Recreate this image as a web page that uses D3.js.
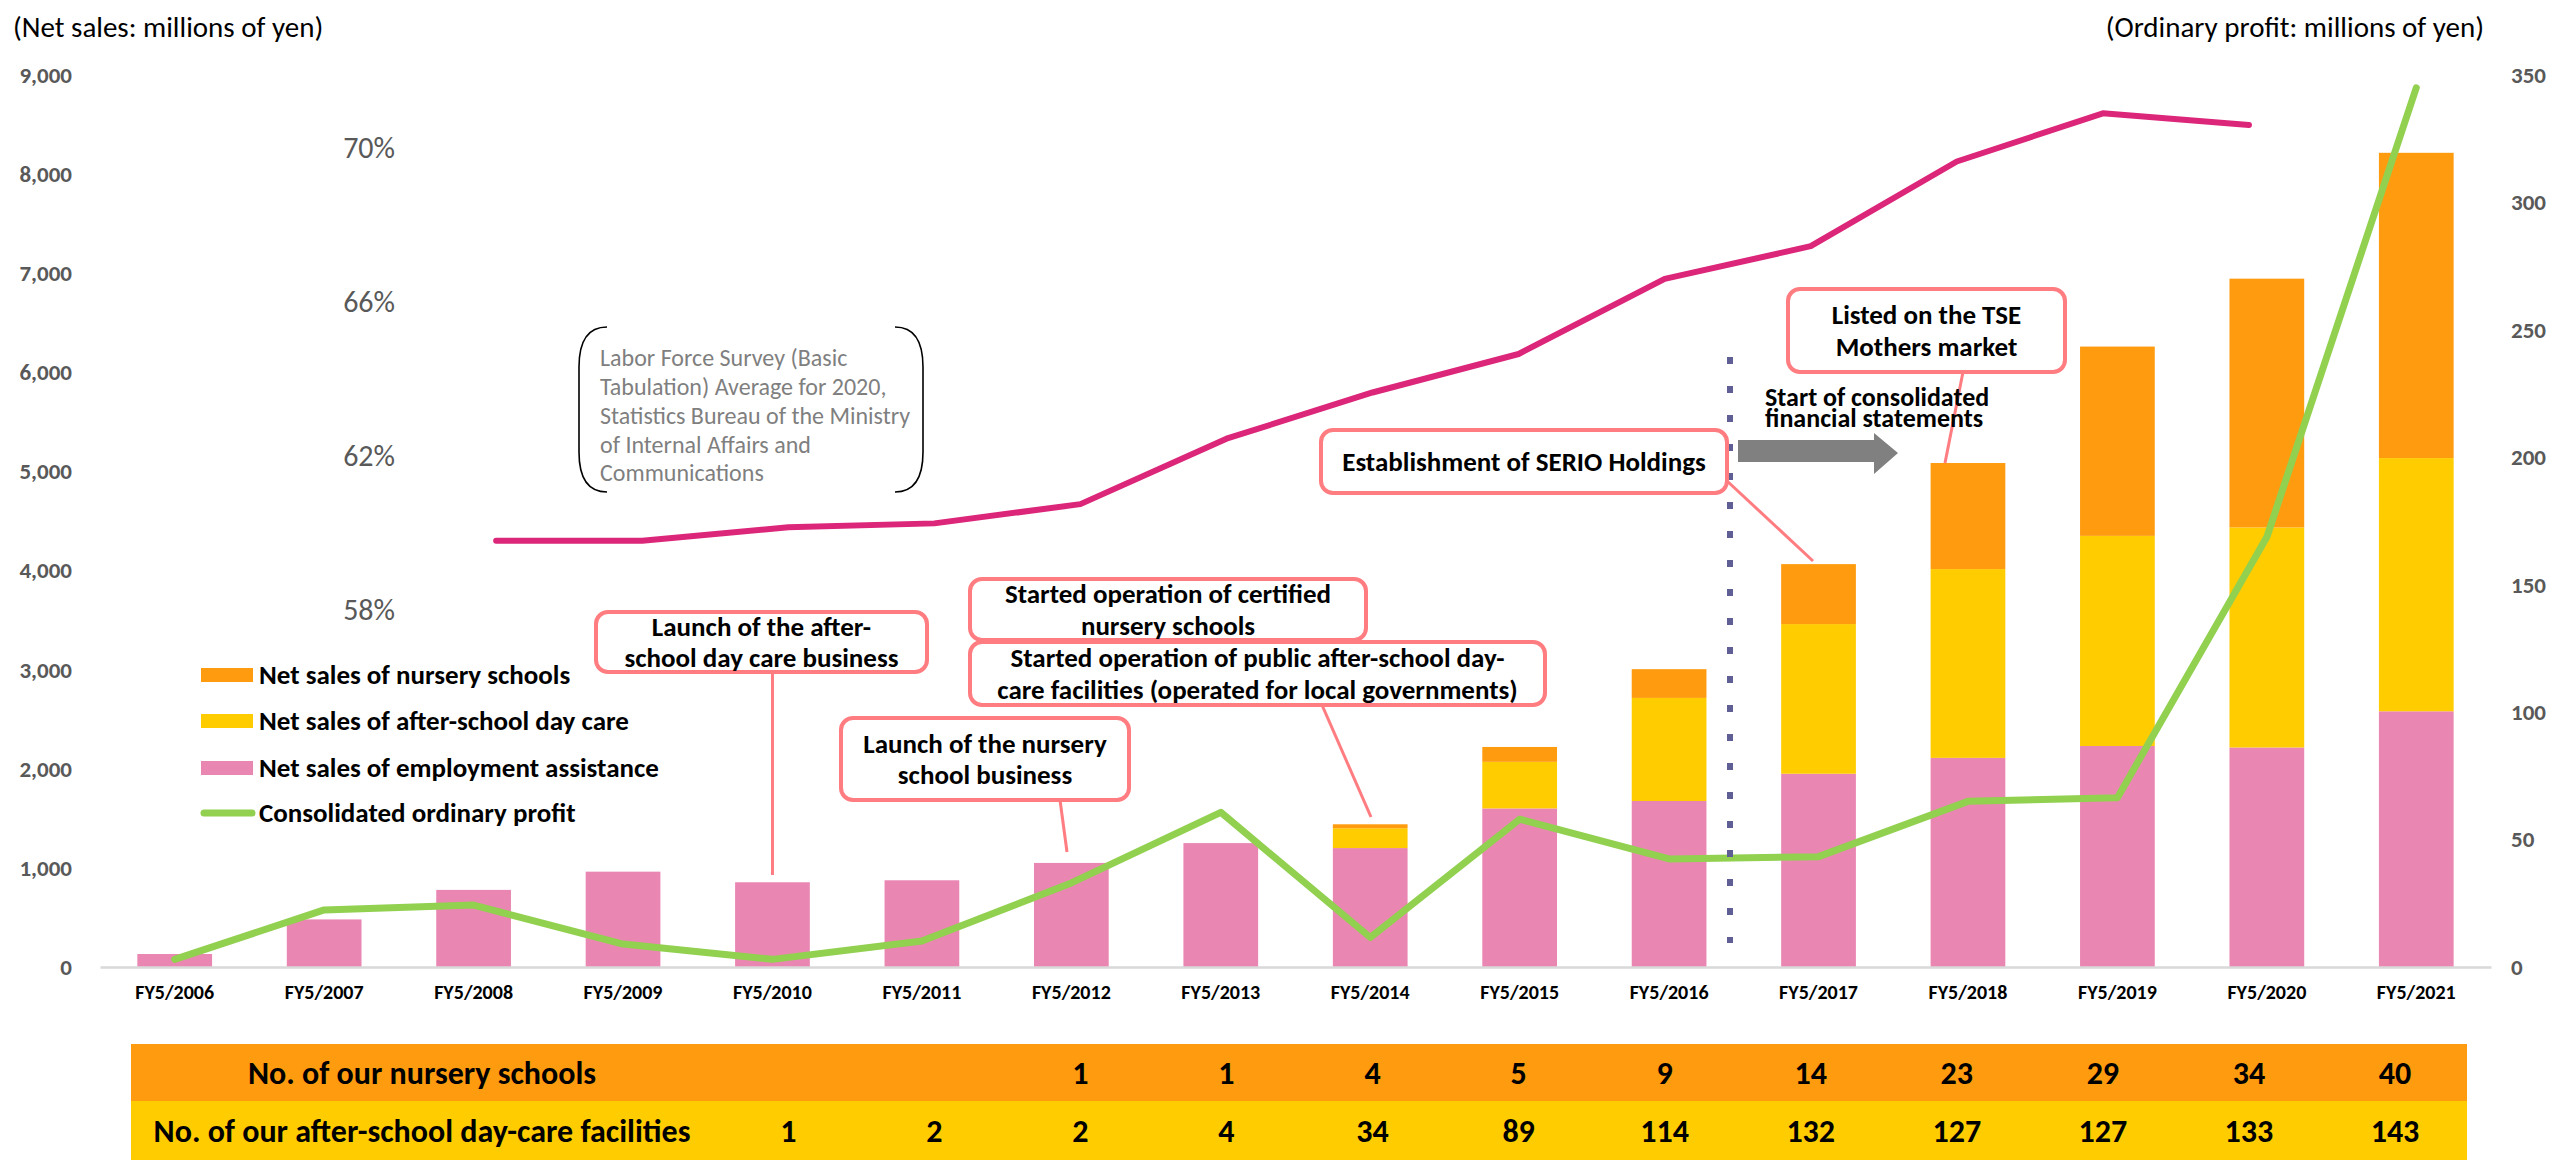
<!DOCTYPE html>
<html>
<head>
<meta charset="utf-8">
<script src="https://cdn.jsdelivr.net/npm/d3@7"></script>
<style>
  html, body { margin: 0; padding: 0; background: #fff; }
  svg { display: block; }
  text { font-family: Carlito, Calibri, Lato, "Noto Sans", sans-serif; }
</style>
</head>
<body>
<svg id="chart" width="2554" height="1160"></svg>
<script>
// ---- data ----
const years = ["FY5/2006","FY5/2007","FY5/2008","FY5/2009","FY5/2010","FY5/2011","FY5/2012","FY5/2013",
               "FY5/2014","FY5/2015","FY5/2016","FY5/2017","FY5/2018","FY5/2019","FY5/2020","FY5/2021"];
// net sales, millions of yen
const salesEmployment = [131, 480, 778, 962, 855, 875, 1050, 1250, 1200, 1600, 1675, 1950, 2110, 2230, 2215, 2580];
const salesAfterSchool = [0, 0, 0, 0, 0, 0, 0, 0, 200, 470, 1040, 1510, 1905, 2120, 2220, 2555];
const salesNursery = [0, 0, 0, 0, 0, 0, 0, 0, 40, 150, 290, 605, 1070, 1910, 2510, 3080];
// consolidated ordinary profit, millions of yen
const ordinaryProfit = [3, 22.4, 24.3, 9, 3, 10.2, 33, 60.7, 11.6, 58, 42.4, 43.3, 65, 66.4, 168.7, 345];
// women's employment rate, % (Labor Force Survey)
const employmentRate = [null, null, 59.8, 59.8, 60.15, 60.25, 60.75, 62.45, 63.65, 64.65, 66.6, 67.45, 69.65, 70.9, 70.6, null];
// facility counts shown in the table below the chart
const tableYears = years.slice(4);
const nurseryCount = [null, null, 1, 1, 4, 5, 9, 14, 23, 29, 34, 40];
const afterSchoolCount = [1, 2, 2, 4, 34, 89, 114, 132, 127, 127, 133, 143];

const leftTicks = [0, 1000, 2000, 3000, 4000, 5000, 6000, 7000, 8000, 9000];
const rightTicks = [0, 50, 100, 150, 200, 250, 300, 350];
const rateTicks = [58, 62, 66, 70];

const seriesKeys = ["employment", "afterSchool", "nursery"];
const seriesColor = { employment: "#EA86B2", afterSchool: "#FFCC00", nursery: "#FF9B0F" };
const legendItems = [
  { label: "Net sales of nursery schools", color: "#FF9B0F", type: "rect" },
  { label: "Net sales of after-school day care", color: "#FFCC00", type: "rect" },
  { label: "Net sales of employment assistance", color: "#EA86B2", type: "rect" },
  { label: "Consolidated ordinary profit", color: "#92D050", type: "line" }
];

// ---- layout ----
const svg = d3.select("#chart");
const plot = { left: 100, right: 2491, top: 75, bottom: 967 };

const x = d3.scaleBand().domain(years).range([plot.left, plot.right]).paddingInner(0.5).paddingOuter(0.25);
// the rate line and the facility table sit on a slightly tighter year grid
const xOverlay = d3.scalePoint().domain(years).range([204, 2395]);
const yLeft = d3.scaleLinear().domain([0, 9000]).range([plot.bottom, plot.top]);
const yRight = d3.scaleLinear().domain([0, 350]).range([plot.bottom, plot.top]);
const yRate = d3.scaleLinear().domain([58, 70]).range([610, 148]);
const cx = d => x(d) + x.bandwidth() / 2;

// axis titles
svg.append("text").attr("x", 13).attr("y", 37).attr("font-size", 29).attr("fill", "#000")
  .text("(Net sales: millions of yen)");
svg.append("text").attr("x", 2484).attr("y", 37).attr("font-size", 29).attr("fill", "#000")
  .attr("text-anchor", "end").text("(Ordinary profit: millions of yen)");

// left axis
const gL = svg.append("g").attr("transform", `translate(${80},0)`)
  .call(d3.axisLeft(yLeft).tickValues(leftTicks).tickFormat(d3.format(",")).tickSize(0).tickPadding(8));
gL.select(".domain").remove();
gL.selectAll("text").attr("font-size", 23).attr("font-weight", "bold").attr("fill", "#595959");

// right axis
const gR = svg.append("g").attr("transform", `translate(${2503},0)`)
  .call(d3.axisRight(yRight).tickValues(rightTicks).tickSize(0).tickPadding(8));
gR.select(".domain").remove();
gR.selectAll("text").attr("font-size", 23).attr("font-weight", "bold").attr("fill", "#595959");

// employment-rate labels (inner axis, labels only)
const gP = svg.append("g").attr("transform", `translate(${403},0)`)
  .call(d3.axisLeft(yRate).tickValues(rateTicks).tickFormat(d => d + "%").tickSize(0).tickPadding(8));
gP.select(".domain").remove();
gP.selectAll("text").attr("font-size", 30).attr("fill", "#595959");

// stacked bars
const rows = years.map((y, i) => ({
  year: y, employment: salesEmployment[i], afterSchool: salesAfterSchool[i], nursery: salesNursery[i]
}));
const stacked = d3.stack().keys(seriesKeys)(rows);
svg.append("g").selectAll("g").data(stacked).join("g")
  .attr("fill", s => seriesColor[s.key])
  .selectAll("rect").data(s => s).join("rect")
  .attr("x", d => x(d.data.year))
  .attr("width", x.bandwidth())
  .attr("y", d => yLeft(d[1]))
  .attr("height", d => yLeft(d[0]) - yLeft(d[1]));

// x axis
const gX = svg.append("g").attr("transform", `translate(0,${plot.bottom})`)
  .call(d3.axisBottom(x).tickSize(0).tickSizeOuter(0).tickPadding(18));
gX.select(".domain").attr("stroke", "#D9D9D9").attr("stroke-width", 2.5);
gX.selectAll("text").attr("font-size", 20).attr("font-weight", "bold").attr("fill", "#000");

// employment rate line
const rateLine = d3.line().defined(d => d.v != null).x(d => xOverlay(d.year)).y(d => yRate(d.v));
svg.append("path")
  .datum(years.map((y, i) => ({ year: y, v: employmentRate[i] })))
  .attr("d", rateLine).attr("fill", "none").attr("stroke", "#DC267A")
  .attr("stroke-width", 6).attr("stroke-linecap", "round").attr("stroke-linejoin", "round");

// ordinary profit line
const profitLine = d3.line().x(d => cx(d.year)).y(d => yRight(d.v));
svg.append("path")
  .datum(years.map((y, i) => ({ year: y, v: ordinaryProfit[i] })))
  .attr("d", profitLine).attr("fill", "none").attr("stroke", "#92D050")
  .attr("stroke-width", 7).attr("stroke-linecap", "round").attr("stroke-linejoin", "round");

// legend
const lg = svg.append("g");
const legendY = [675, 721, 768, 813];
legendItems.forEach((it, i) => {
  if (it.type === "rect") {
    lg.append("rect").attr("x", 201).attr("y", legendY[i] - 7).attr("width", 52).attr("height", 14).attr("fill", it.color);
  } else {
    lg.append("line").attr("x1", 204).attr("x2", 252).attr("y1", legendY[i]).attr("y2", legendY[i])
      .attr("stroke", it.color).attr("stroke-width", 7).attr("stroke-linecap", "round");
  }
  lg.append("text").attr("x", 259).attr("y", legendY[i]).attr("dy", "0.35em")
    .attr("font-size", 27).attr("font-weight", "bold").attr("fill", "#000").text(it.label);
});

// source note with bracket
const note = svg.append("g");
const nb = { x0: 579, x1: 923, y0: 327, y1: 492, r: 26, tail: 28 };
note.append("path").attr("fill", "none").attr("stroke", "#000").attr("stroke-width", 1.6)
  .attr("d", `M${nb.x0 + nb.tail},${nb.y0} Q${nb.x0},${nb.y0} ${nb.x0},${nb.y0 + nb.r + 14} L${nb.x0},${nb.y1 - nb.r - 14} Q${nb.x0},${nb.y1} ${nb.x0 + nb.tail},${nb.y1}`);
note.append("path").attr("fill", "none").attr("stroke", "#000").attr("stroke-width", 1.6)
  .attr("d", `M${nb.x1 - nb.tail},${nb.y0} Q${nb.x1},${nb.y0} ${nb.x1},${nb.y0 + nb.r + 14} L${nb.x1},${nb.y1 - nb.r - 14} Q${nb.x1},${nb.y1} ${nb.x1 - nb.tail},${nb.y1}`);
const noteLines = ["Labor Force Survey (Basic", "Tabulation) Average for 2020,", "Statistics Bureau of the Ministry",
                   "of Internal Affairs and", "Communications"];
noteLines.forEach((t, i) => {
  note.append("text").attr("x", 600).attr("y", 358 + i * 28.7).attr("dy", "0.35em")
    .attr("font-size", 24).attr("fill", "#7F7F7F").text(t);
});

// dotted separator before consolidated statements
const sepX = 1730;
svg.append("line").attr("x1", sepX).attr("x2", sepX).attr("y1", 357).attr("y2", 943)
  .attr("stroke", "#5F5F95").attr("stroke-width", 6).attr("stroke-dasharray", "7 22");

// arrow
svg.append("path").attr("fill", "#808080")
  .attr("d", "M1738,440 L1874,440 L1874,433 L1898,453 L1874,474 L1874,462 L1738,462 Z");

// callouts
const callouts = [
  { lines: ["Launch of the after-", "school day care business"], box: [596, 612, 927, 672], ptr: [cx("FY5/2010"), 672, cx("FY5/2010"), 875] },
  { lines: ["Launch of the nursery", "school business"], box: [841, 718, 1129, 800], ptr: [1060, 800, 1067, 852] },
  { lines: ["Started operation of certified", "nursery schools"], box: [970, 579, 1366, 640], ptr: null },
  { lines: ["Started operation of public after-school day-", "care facilities (operated for local governments)"], box: [970, 642, 1545, 705], ptr: [1322, 705, 1371, 817] },
  { lines: ["Establishment of SERIO Holdings"], box: [1321, 430, 1727, 493], ptr: [1726, 480, 1813, 561] },
  { lines: ["Listed on the TSE", "Mothers market"], box: [1788, 289, 2065, 372], ptr: [1963, 372, 1945, 463] }
];
const cg = svg.append("g");
callouts.forEach(c => {
  if (c.ptr) cg.append("line").attr("x1", c.ptr[0]).attr("y1", c.ptr[1]).attr("x2", c.ptr[2]).attr("y2", c.ptr[3])
    .attr("stroke", "#FF7C80").attr("stroke-width", 3);
});
callouts.forEach(c => {
  const [x0, y0, x1, y1] = c.box;
  cg.append("rect").attr("x", x0).attr("y", y0).attr("width", x1 - x0).attr("height", y1 - y0)
    .attr("rx", 12).attr("fill", "#fff").attr("stroke", "#FF7C80").attr("stroke-width", 4);
  const midY = (y0 + y1) / 2, lh = 31.5, n = c.lines.length;
  c.lines.forEach((t, i) => {
    cg.append("text").attr("x", (x0 + x1) / 2).attr("y", midY + (i - (n - 1) / 2) * lh).attr("dy", "0.35em")
      .attr("text-anchor", "middle").attr("font-size", 27).attr("font-weight", "bold").attr("fill", "#000").text(t);
  });
});

// consolidated statements label
["Start of consolidated", "financial statements"].forEach((t, i) => {
  svg.append("text").attr("x", 1765).attr("y", 397 + i * 21).attr("dy", "0.35em")
    .attr("font-size", 26).attr("font-weight", "bold").attr("fill", "#000").text(t);
});

// facility table
const table = [
  { label: "No. of our nursery schools", values: nurseryCount, fill: "#FF9B0F", y0: 1044, y1: 1101 },
  { label: "No. of our after-school day-care facilities", values: afterSchoolCount, fill: "#FFCC00", y0: 1101, y1: 1160 }
];
const tg = svg.append("g");
table.forEach(r => {
  tg.append("rect").attr("x", 131).attr("y", r.y0).attr("width", 2467 - 131).attr("height", r.y1 - r.y0).attr("fill", r.fill);
  const my = (r.y0 + r.y1) / 2;
  tg.append("text").attr("x", 422).attr("y", my).attr("dy", "0.35em").attr("text-anchor", "middle")
    .attr("font-size", 32).attr("font-weight", "bold").attr("fill", "#000").text(r.label);
  tg.selectAll(null).data(tableYears.map((y, i) => ({ y, v: r.values[i] })).filter(d => d.v != null))
    .join("text").attr("x", d => xOverlay(d.y)).attr("y", my).attr("dy", "0.35em").attr("text-anchor", "middle")
    .attr("font-size", 32).attr("font-weight", "bold").attr("fill", "#000").text(d => d.v);
});
</script>
</body>
</html>
